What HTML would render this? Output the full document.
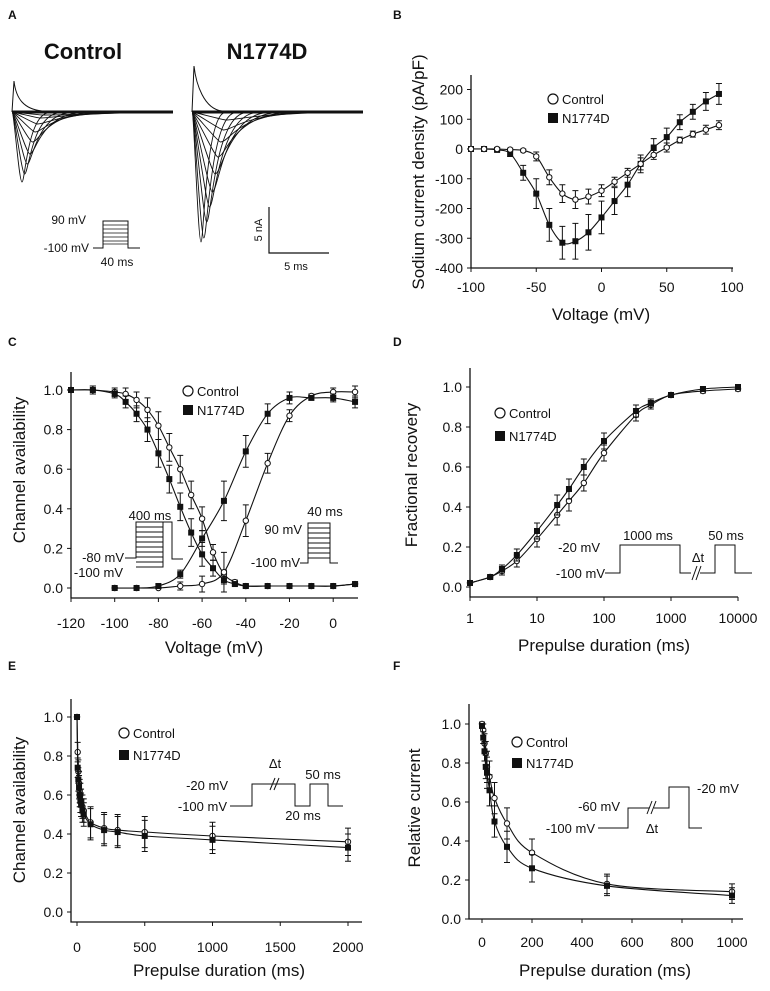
<!DOCTYPE html>
<html><head><meta charset="utf-8">
<style>
html,body{margin:0;padding:0;background:#fff;}
svg{display:block;font-family:"Liberation Sans",Arial,sans-serif;}
text{fill:#111;}
</style></head>
<body>
<svg id="fig" width="770" height="991" viewBox="0 0 770 991" xmlns="http://www.w3.org/2000/svg">
<g id="panelA">
<text x="8" y="19" font-size="12" font-weight="bold">A</text>
<text x="83" y="59" font-size="22" font-weight="bold" text-anchor="middle">Control</text>
<text x="267" y="59" font-size="22" font-weight="bold" text-anchor="middle">N1774D</text>
<g id="tracesCtl"></g>
<g id="tracesMut"></g>
<g stroke="#111" fill="none" stroke-width="1">
<path d="M93 248 H103 V221 H128 V248 H140"/>
<path d="M103 225 H128 M103 229 H128 M103 233 H128 M103 237 H128 M103 241 H128 M103 244 H128" stroke-width="0.8"/>
</g>
<text x="86" y="224" font-size="12" text-anchor="end">90 mV</text>
<text x="89" y="252" font-size="12" text-anchor="end">-100 mV</text>
<text x="117" y="266" font-size="12" text-anchor="middle">40 ms</text>
<path d="M269 207 V253 H329" stroke="#111" fill="none" stroke-width="1.2"/>
<text transform="translate(262,230) rotate(-90)" font-size="11" text-anchor="middle">5 nA</text>
<text x="296" y="270" font-size="11" text-anchor="middle">5 ms</text>
</g>
</svg>
<script>
// ---------- data ----------
const bV = [-100,-90,-80,-70,-60,-50,-40,-30,-20,-10,0,10,20,30,40,50,60,70,80,90];
const bCtl = [0,0,0,-2,-5,-25,-95,-150,-170,-160,-140,-110,-80,-50,-20,5,30,50,65,80];
const bMut = [0,0,-3,-15,-80,-150,-255,-315,-310,-280,-230,-175,-120,-50,5,40,90,125,160,185];
const bErrCtl = [5,5,5,5,5,15,25,30,30,25,20,15,15,20,15,15,10,10,15,15];
const bErrMut = [5,5,5,10,25,50,55,55,60,60,55,45,40,30,30,30,25,25,30,35];

const cInV = [-120,-110,-100,-95,-90,-85,-80,-75,-70,-65,-60,-55,-50,-45,-40,-30,-20,-10,0,10];
const cInCtl = [1.0,1.0,0.99,0.98,0.95,0.9,0.82,0.71,0.6,0.47,0.35,0.18,0.07,0.03,0.01,0.01,0.01,0.01,0.01,0.02];
const cInMut = [1.0,1.0,0.98,0.94,0.88,0.8,0.68,0.55,0.41,0.28,0.17,0.1,0.04,0.02,0.01,0.01,0.01,0.01,0.01,0.02];
const cInErr = [0,0.02,0.02,0.03,0.04,0.06,0.07,0.07,0.07,0.07,0.06,0.04,0.02,0.01,0.01,0,0,0,0,0.01];
const cAcV = [-100,-90,-80,-70,-60,-50,-40,-30,-20,-10,0,10];
const cAcCtl = [0,0,0,0.01,0.02,0.08,0.34,0.63,0.87,0.97,0.99,0.99];
const cAcMut = [0,0,0.01,0.07,0.25,0.44,0.69,0.88,0.96,0.96,0.96,0.94];
const cAcErr = [0,0,0,0.02,0.04,0.1,0.08,0.05,0.03,0.01,0.02,0.03];

const dT = [1,2,3,5,10,20,30,50,100,300,500,1000,3000,10000];
const dCtl = [0.02,0.05,0.08,0.13,0.24,0.36,0.43,0.52,0.67,0.86,0.91,0.96,0.98,0.99];
const dMut = [0.02,0.05,0.09,0.16,0.28,0.41,0.49,0.6,0.73,0.88,0.92,0.96,0.99,1.0];
const dErr = [0.01,0.01,0.02,0.03,0.04,0.05,0.05,0.04,0.04,0.03,0.02,0.01,0.01,0.01];

const eT = [0,5,10,15,20,25,30,40,50,100,200,300,500,1000,2000];
const eCtl = [1.0,0.82,0.72,0.66,0.62,0.6,0.57,0.54,0.52,0.46,0.43,0.42,0.41,0.39,0.36];
const eMut = [1.0,0.74,0.68,0.64,0.6,0.57,0.55,0.52,0.5,0.45,0.42,0.41,0.39,0.37,0.33];
const eErr = [0,0.05,0.06,0.06,0.06,0.06,0.06,0.06,0.06,0.08,0.08,0.08,0.08,0.07,0.07];

const fT = [0,5,10,15,20,30,50,100,200,500,1000];
const fCtl = [1.0,0.97,0.9,0.85,0.78,0.73,0.62,0.49,0.34,0.18,0.14];
const fMut = [0.99,0.93,0.86,0.78,0.75,0.66,0.5,0.37,0.26,0.17,0.12];
const fErr = [0.01,0.03,0.05,0.06,0.08,0.08,0.08,0.08,0.07,0.05,0.04];

const ctlDepths = [70,62,52,42,30,20,12,6,3];
const mutDepths = [130,126,110,95,80,62,45,30,18,8];

// ---------- helpers ----------
const NS = 'http://www.w3.org/2000/svg';
const fig = document.getElementById('fig');
function mk(tag, attrs, parent){
  const e = document.createElementNS(NS, tag);
  for (const k in attrs) e.setAttribute(k, attrs[k]);
  (parent||fig).appendChild(e);
  return e;
}
function txt(parent, x, y, s, size, anchor){
  const t = mk('text', {x:x, y:y, 'font-size':size, 'text-anchor':anchor||'start'}, parent);
  t.textContent = s;
  return t;
}
function smooth(pts){
  if (pts.length < 2) return '';
  let d = 'M' + pts[0][0].toFixed(1) + ' ' + pts[0][1].toFixed(1);
  for (let i = 0; i < pts.length - 1; i++){
    const p0 = pts[i-1]||pts[i], p1 = pts[i], p2 = pts[i+1], p3 = pts[i+2]||p2;
    const c1x = p1[0] + (p2[0]-p0[0])/6, c1y = p1[1] + (p2[1]-p0[1])/6;
    const c2x = p2[0] - (p3[0]-p1[0])/6, c2y = p2[1] - (p3[1]-p1[1])/6;
    d += ' C' + c1x.toFixed(1)+' '+c1y.toFixed(1)+' '+c2x.toFixed(1)+' '+c2y.toFixed(1)+' '+p2[0].toFixed(1)+' '+p2[1].toFixed(1);
  }
  return d;
}
function series(g, xs, ys, errs, sx, sy, filled, name){
  const pts = xs.map((x,i)=>[sx(x), sy(ys[i])]);
  const line = mk('path', {d: smooth(pts), fill:'none', stroke:'#111', 'stroke-width':1.1}, g);
  
  
  xs.forEach((x,i)=>{
    const px = sx(x), py = sy(ys[i]);
    const e = errs[i];
    if (e){
      const y1 = sy(ys[i]+e), y2 = sy(ys[i]-e);
      const eb = mk('path', {d:'M'+px+' '+y1+' V'+y2+' M'+(px-3)+' '+y1+' H'+(px+3)+' M'+(px-3)+' '+y2+' H'+(px+3), stroke:'#111', 'stroke-width':1, fill:'none'}, g);
      
      
    }
    let m;
    if (filled) m = mk('rect', {x:px-3, y:py-3, width:6, height:6, fill:'#111'}, g);
    else m = mk('circle', {cx:px, cy:py, r:2.7, fill:'#fff', stroke:'#111', 'stroke-width':1}, g);
    
    
  });
}
function axes(g, o){
  const ax = mk('path', {d:'M'+o.ax+' '+o.yTop+' V'+o.yBot+' H'+o.xEnd, fill:'none', stroke:'#111', 'stroke-width':1.3}, g);
  
  
  o.yTicks.forEach((v,i)=>{
    const y = o.sy(v);
    const tk = mk('line', {x1:o.ax-4, x2:o.ax, y1:y, y2:y, stroke:'#111', 'stroke-width':1}, g);
    
    
    const t = txt(g, o.ax-8, y+5, o.yLabels[i], 14, 'end');
    
    
  });
  o.xTicks.forEach((v,i)=>{
    const x = o.sx(v);
    const tk = mk('line', {x1:x, x2:x, y1:o.yBot, y2:o.yBot+4, stroke:'#111', 'stroke-width':1}, g);
    
    
    const t = txt(g, x, o.tickY, o.xLabels[i], 14, 'middle');
    
    
  });
  const xt = txt(g, o.xTitleX, o.xTitleY, o.xTitle, 17, 'middle');
  
  
  const yt = mk('text', {transform:'translate('+o.yTitleX+','+o.yTitleY+') rotate(-90)', 'font-size':17, 'text-anchor':'middle'}, g);
  yt.textContent = o.yTitle;
  
  
}
function legend(g, x, y1, y2){
  const c = mk('circle', {cx:x, cy:y1, r:5, fill:'#fff', stroke:'#111', 'stroke-width':1.2}, g);
  
  
  const t1 = txt(g, x+9, y1+5, 'Control', 13);
  
  
  const s = mk('rect', {x:x-5, y:y2-5, width:10, height:10, fill:'#111'}, g);
  
  
  const t2 = txt(g, x+9, y2+5, 'N1774D', 13);
  
  
}
function panel(name, letter, lx, ly){
  const g = mk('g', {});
  
  
  const t = txt(g, lx, ly, letter, 12);
  t.setAttribute('font-weight', 'bold');
  
  
  return g;
}
function proto(g, d, name){
  const p = mk('path', {d:d, fill:'none', stroke:'#111', 'stroke-width':1}, g);
  
  
}
function label(g, x, y, s, anchor, name){
  const t = txt(g, x, y, s, 13, anchor);
  
  
}

// ---------- Panel A traces ----------
function traces(gid, x0, x1, base, depths, tStart, tStep, wStart, wStep, up){
  const g = document.getElementById(gid);
  const cap = mk('path', {d:'M'+x0+' '+base+' L'+(x0+2)+' '+(base-up)+' C'+(x0+4)+' '+(base-up+18)+' '+(x0+12)+' '+(base-3)+' '+(x0+30)+' '+(base-1)+' H'+x1, fill:'none', stroke:'#111', 'stroke-width':1}, g);
  
  
  depths.forEach((dep,i)=>{
    const tx = x0 + tStart + i*tStep, w = wStart + i*wStep;
    const ty = base + dep;
    const d = 'M'+x0+' '+base+' C'+(x0+2)+' '+base+' '+(tx-3)+' '+ty+' '+tx+' '+ty+
              ' C'+(tx+w*0.35)+' '+ty+' '+(tx+w*0.6)+' '+(base+3)+' '+(tx+w*3)+' '+(base+0.5)+' L'+x1+' '+base;
    const p = mk('path', {d:d, fill:'none', stroke:'#111', 'stroke-width':0.9}, g);
    
    
  });
  const bl = mk('path', {d:'M'+x0+' '+base+' H'+x1, stroke:'#111', 'stroke-width':3}, g);
  
  
}
traces('tracesCtl', 12, 173, 112, ctlDepths, 10, 2.6, 9, 2.8, 31);
traces('tracesMut', 192, 363, 112, mutDepths, 9, 2.8, 8, 2.6, 46);

// ---------- Panel B ----------
(function(){
  const g = panel('panel-b', 'B', 393, 19);
  const sx = v => 471 + (v+100)*1.305;
  const sy = v => 149 - v*0.2975;
  axes(g, {ax:471, yTop:75, yBot:268, xEnd:733, sx:sx, sy:sy,
    yTicks:[200,100,0,-100,-200,-300,-400], yLabels:['200','100','0','-100','-200','-300','-400'],
    xTicks:[-100,-50,0,50,100], xLabels:['-100','-50','0','50','100'], tickY:292,
    xTitle:'Voltage (mV)', xTitleX:601, xTitleY:320, yTitle:'Sodium current density (pA/pF)', yTitleX:424, yTitleY:172});
  series(g, bV, bMut, bErrMut, sx, sy, true, 'n1774d');
  series(g, bV, bCtl, bErrCtl, sx, sy, false, 'control');
  legend(g, 553, 99, 118);
})();

// ---------- Panel C ----------
(function(){
  const g = panel('panel-c', 'C', 8, 346);
  const sx = v => 71 + (v+120)*2.185;
  const sy = v => 588 - v*198;
  axes(g, {ax:71, yTop:372, yBot:598, xEnd:358, sx:sx, sy:sy,
    yTicks:[0,0.2,0.4,0.6,0.8,1.0], yLabels:['0.0','0.2','0.4','0.6','0.8','1.0'],
    xTicks:[-120,-100,-80,-60,-40,-20,0], xLabels:['-120','-100','-80','-60','-40','-20','0'], tickY:628,
    xTitle:'Voltage (mV)', xTitleX:214, xTitleY:653, yTitle:'Channel availability', yTitleX:25, yTitleY:470});
  series(g, cInV, cInCtl, cInErr, sx, sy, false, 'control-inactivation');
  series(g, cInV, cInMut, cInErr, sx, sy, true, 'n1774d-inactivation');
  series(g, cAcV, cAcCtl, cAcErr, sx, sy, false, 'control-activation');
  series(g, cAcV, cAcMut, cAcErr, sx, sy, true, 'n1774d-activation');
  legend(g, 188, 391, 410);
  proto(g, 'M125 558 H136 V522 H163 V567 H136 M163 522 H172 V559 H183', 'inactivation-protocol');
  proto(g, 'M136 527 H163 M136 532 H163 M136 537 H163 M136 542 H163 M136 547 H163 M136 552 H163 M136 557 H163 M136 562 H163', 'inactivation-protocol-steps');
  label(g, 150, 520, '400 ms', 'middle', 'protocol-400ms');
  label(g, 124, 562, '-80 mV', 'end', 'protocol-80mv');
  label(g, 123, 577, '-100 mV', 'end', 'protocol-100mv-c');
  proto(g, 'M300 563 H308 V523 H330 V563 H338', 'activation-protocol-c');
  proto(g, 'M308 528 H330 M308 533 H330 M308 538 H330 M308 543 H330 M308 548 H330 M308 553 H330 M308 558 H330', 'activation-protocol-steps');
  label(g, 302, 534, '90 mV', 'end', 'protocol-90mv-c');
  label(g, 325, 516, '40 ms', 'middle', 'protocol-40ms-c');
  label(g, 300, 567, '-100 mV', 'end', 'protocol-100mv-c2');
})();

// ---------- Panel D ----------
(function(){
  const g = panel('panel-d', 'D', 393, 346);
  const sx = v => 470 + Math.log10(v)*67;
  const sy = v => 587 - v*200;
  axes(g, {ax:470, yTop:368, yBot:597, xEnd:738, sx:sx, sy:sy,
    yTicks:[0,0.2,0.4,0.6,0.8,1.0], yLabels:['0.0','0.2','0.4','0.6','0.8','1.0'],
    xTicks:[1,10,100,1000,10000], xLabels:['1','10','100','1000','10000'], tickY:623,
    xTitle:'Prepulse duration (ms)', xTitleX:604, xTitleY:651, yTitle:'Fractional recovery', yTitleX:417, yTitleY:475});
  series(g, dT, dCtl, dErr, sx, sy, false, 'control');
  series(g, dT, dMut, dErr, sx, sy, true, 'n1774d');
  legend(g, 500, 413, 436);
  proto(g, 'M605 573 H620 V545 H680 V573 H691 M700 573 H715 V545 H735 V573 H752 M692 580 L697 566 M696 580 L701 566', 'recovery-protocol');
  label(g, 600, 552, '-20 mV', 'end', 'protocol-20mv-d');
  label(g, 605, 578, '-100 mV', 'end', 'protocol-100mv-d');
  label(g, 648, 540, '1000 ms', 'middle', 'protocol-1000ms');
  label(g, 698, 562, 'Δt', 'middle', 'protocol-dt-d');
  label(g, 726, 540, '50 ms', 'middle', 'protocol-50ms-d');
})();

// ---------- Panel E ----------
(function(){
  const g = panel('panel-e', 'E', 8, 670);
  const sx = v => 77 + v*0.1355;
  const sy = v => 912 - v*195;
  axes(g, {ax:71, yTop:699, yBot:922, xEnd:362, sx:sx, sy:sy,
    yTicks:[0,0.2,0.4,0.6,0.8,1.0], yLabels:['0.0','0.2','0.4','0.6','0.8','1.0'],
    xTicks:[0,500,1000,1500,2000], xLabels:['0','500','1000','1500','2000'], tickY:952,
    xTitle:'Prepulse duration (ms)', xTitleX:219, xTitleY:976, yTitle:'Channel availability', yTitleX:25, yTitleY:810});
  series(g, eT, eCtl, eErr, sx, sy, false, 'control');
  series(g, eT, eMut, eErr, sx, sy, true, 'n1774d');
  legend(g, 124, 733, 755);
  proto(g, 'M230 806 H252 V784 H295 V806 H310 V784 H328 V806 H343 M270 790 L275 778 M274 790 L279 778', 'development-protocol');
  label(g, 228, 790, '-20 mV', 'end', 'protocol-20mv-e');
  label(g, 227, 811, '-100 mV', 'end', 'protocol-100mv-e');
  label(g, 275, 768, 'Δt', 'middle', 'protocol-dt-e');
  label(g, 323, 779, '50 ms', 'middle', 'protocol-50ms-e');
  label(g, 303, 820, '20 ms', 'middle', 'protocol-20ms-e');
})();

// ---------- Panel F ----------
(function(){
  const g = panel('panel-f', 'F', 393, 670);
  const sx = v => 482 + v*0.25;
  const sy = v => 919 - v*195;
  axes(g, {ax:469, yTop:704, yBot:919, xEnd:743, sx:sx, sy:sy,
    yTicks:[0,0.2,0.4,0.6,0.8,1.0], yLabels:['0.0','0.2','0.4','0.6','0.8','1.0'],
    xTicks:[0,200,400,600,800,1000], xLabels:['0','200','400','600','800','1000'], tickY:947,
    xTitle:'Prepulse duration (ms)', xTitleX:605, xTitleY:976, yTitle:'Relative current', yTitleX:420, yTitleY:808});
  series(g, fT, fCtl, fErr, sx, sy, false, 'control');
  series(g, fT, fMut, fErr, sx, sy, true, 'n1774d');
  legend(g, 517, 742, 763);
  proto(g, 'M598 828 H628 V808 H649 M654 808 H669 V787 H689 V828 H702 M647 814 L652 801 M651 814 L656 801', 'closed-state-protocol');
  label(g, 620, 811, '-60 mV', 'end', 'protocol-60mv-f');
  label(g, 595, 833, '-100 mV', 'end', 'protocol-100mv-f');
  label(g, 697, 793, '-20 mV', 'start', 'protocol-20mv-f');
  label(g, 652, 833, 'Δt', 'middle', 'protocol-dt-f');
})();
</script>
</body></html>
